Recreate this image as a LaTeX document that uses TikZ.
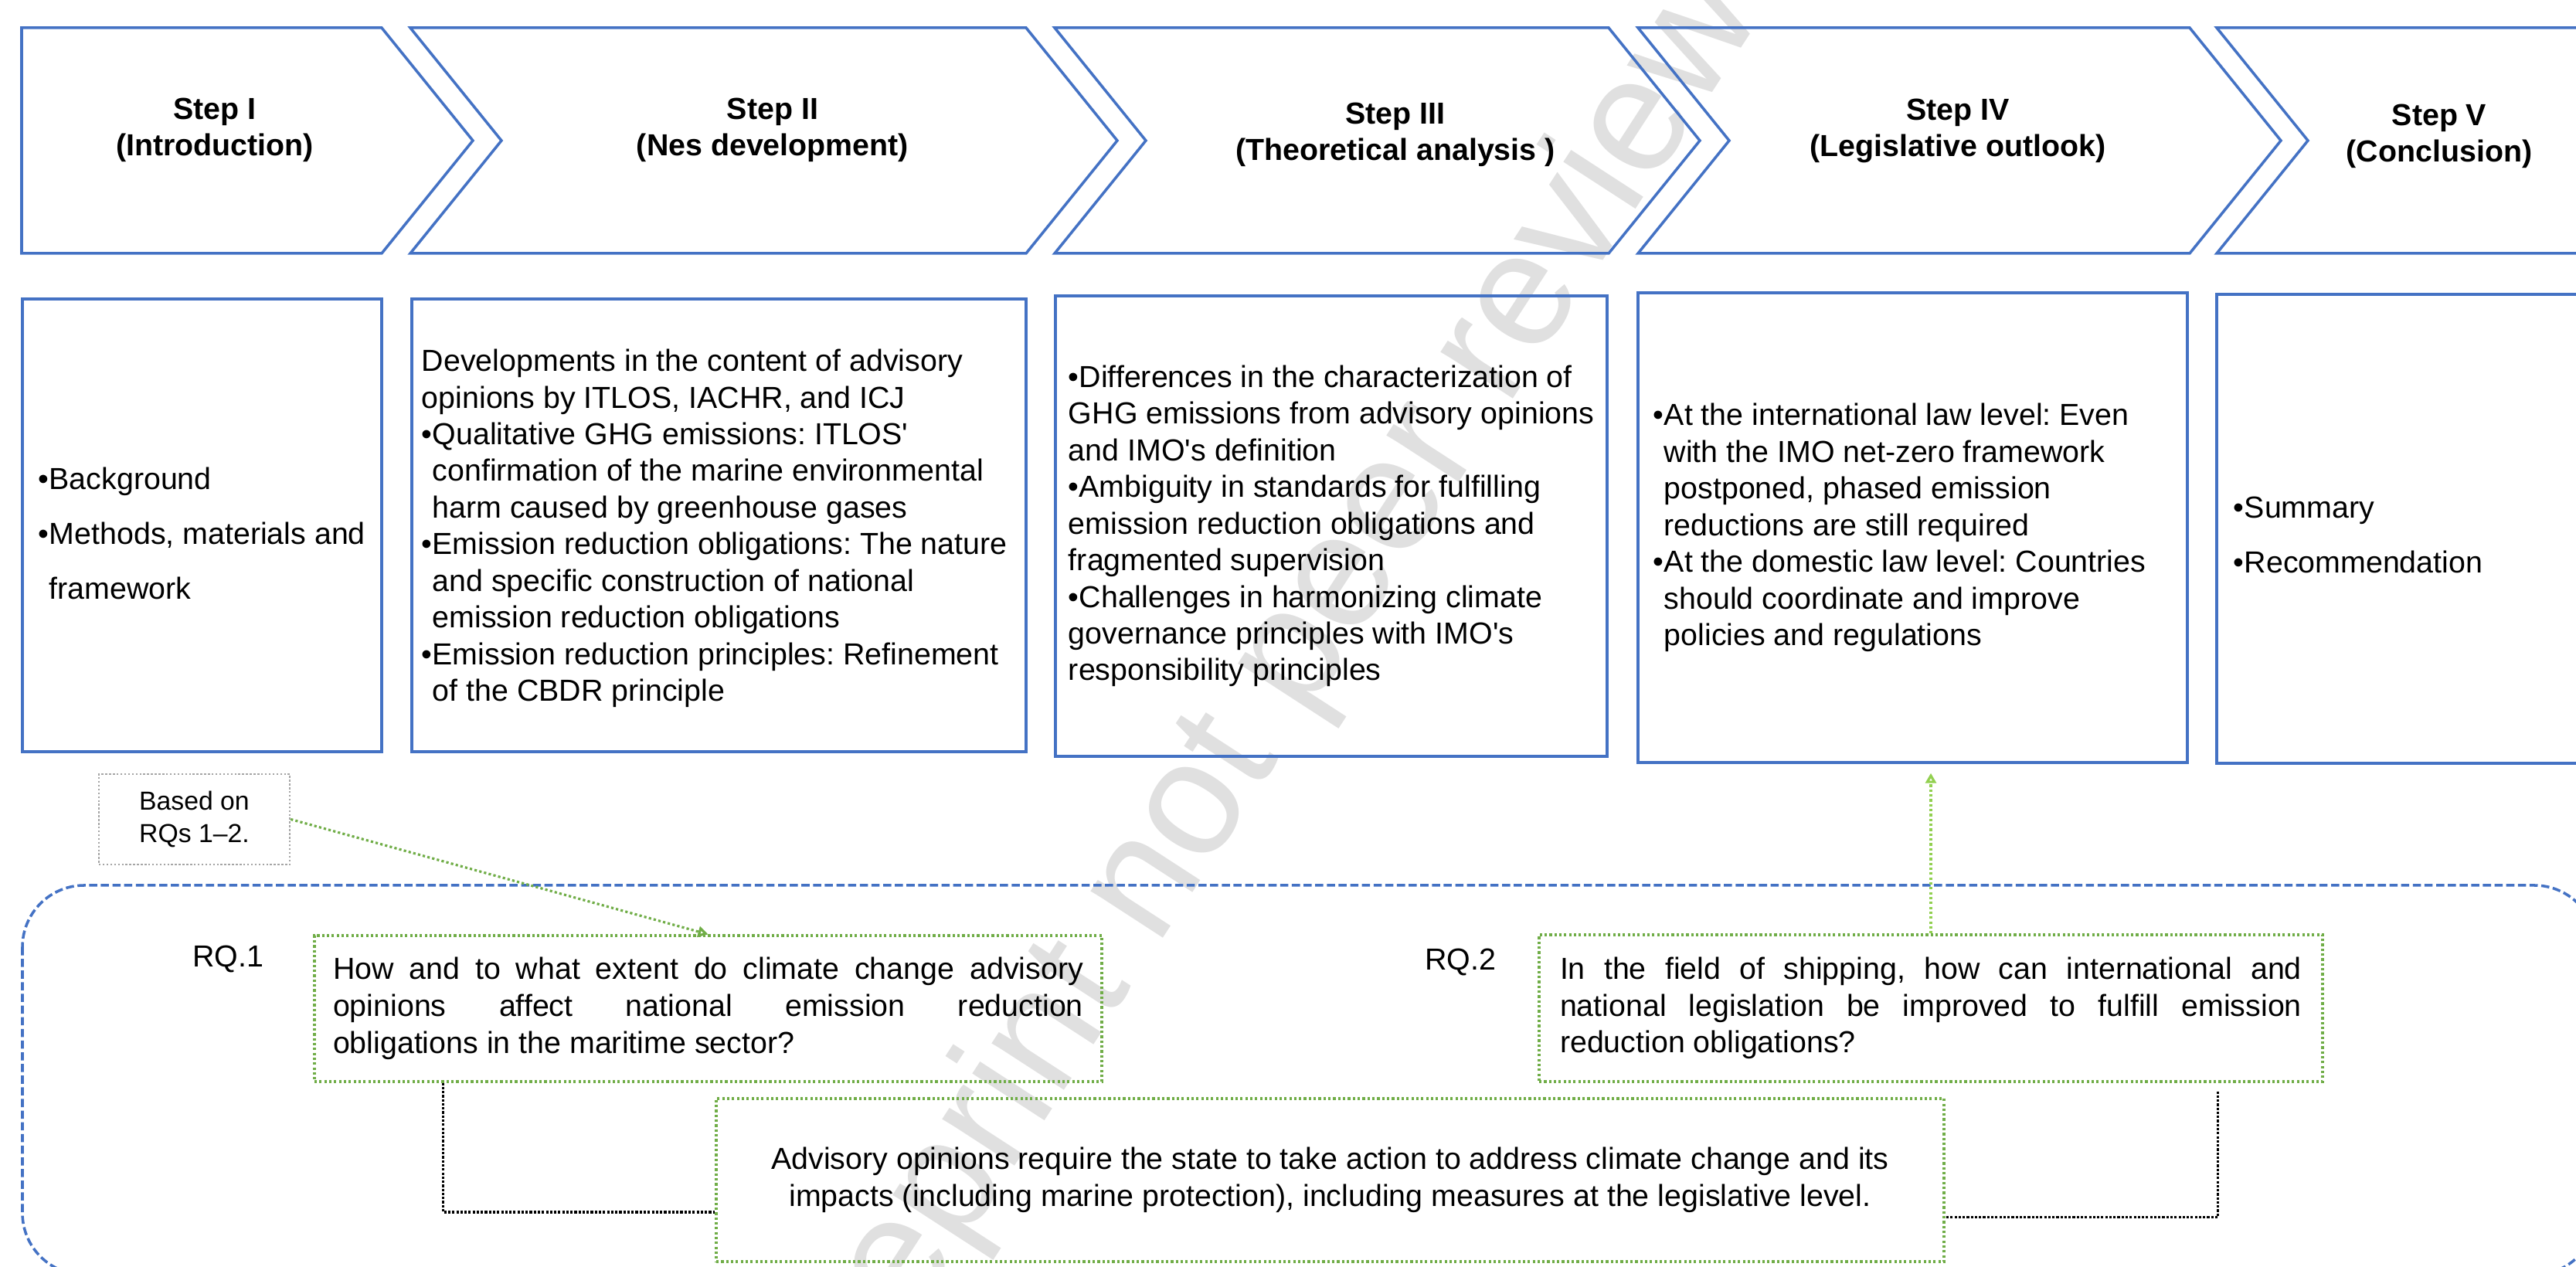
\documentclass[tikz,border=0pt]{standalone}
\usepackage{fontspec}
\setmainfont{Liberation Sans}
\definecolor{ppblue}{RGB}{68,114,196}
\definecolor{ppgreen}{RGB}{112,173,71}
\definecolor{pplime}{RGB}{146,208,80}
\definecolor{ppgray}{RGB}{165,165,165}
\usetikzlibrary{arrows.meta,positioning,calc}
\newcommand{\ind}{\hphantom{\textbullet}}
\newcommand{\apos}{\textquotesingle}

\begin{document}
\frenchspacing
\begin{tikzpicture}[
  chevron/.style={draw=ppblue, line width=1pt, line join=miter},
  steplabel/.style={font=\fontsize{11.2}{13.4}\selectfont\bfseries, align=center},
  stagebox/.style={draw=ppblue, line width=1pt, inner sep=0pt},
  stagetext/.style={font=\fontsize{11.2}{13.5}\selectfont, align=left, inner sep=0pt, anchor=west},
  widetext/.style={stagetext, font=\fontsize{11.2}{20.2}\selectfont},
  rqbox/.style={draw=ppgreen, line width=0.9pt, dash pattern=on 0.9pt off 0.9pt, font=\fontsize{11.2}{13.6}\selectfont, inner ysep=0pt},
  rqlabel/.style={font=\fontsize{11.2}{13.5}\selectfont},
  link/.style={draw=black, line width=0.9pt, dash pattern=on 0.9pt off 0.6pt},
  hint/.style={-{Triangle[open, length=1.3mm, width=1.4mm]}, line width=0.9pt, dash pattern=on 0.9pt off 0.9pt},
]
  \useasboundingbox (0,0) rectangle (33.34,16.40);

  % Watermark
  \node[rotate=57, text=black!12, font=\fontsize{60}{60}\selectfont] (stamp) at (16.91,8.12) {Preprint not peer reviewed};

  % Step I: Introduction
  \draw[chevron] (0.28,16.04) -- (4.94,16.04) -- (6.12,14.58) -- (4.94,13.12) -- (0.28,13.12) -- cycle;
  \node[steplabel] (s1) at (2.78,14.72) {Step I\\(Introduction)};

  % Step II: Nes development
  \draw[chevron] (5.31,16.04) -- (13.28,16.04) -- (14.46,14.58) -- (13.28,13.12) -- (5.31,13.12) -- (6.49,14.58) -- cycle;
  \node[steplabel] (s2) at (10.00,14.72) {Step II\\(Nes development)};

  % Step III: Theoretical analysis
  \draw[chevron] (13.65,16.04) -- (20.82,16.04) -- (22.00,14.58) -- (20.82,13.12) -- (13.65,13.12) -- (14.83,14.58) -- cycle;
  \node[steplabel] (s3) at (18.06,14.66) {Step III\\(Theoretical analysis )};

  % Step IV: Legislative outlook
  \draw[chevron] (21.20,16.04) -- (28.34,16.04) -- (29.52,14.58) -- (28.34,13.12) -- (21.20,13.12) -- (22.38,14.58) -- cycle;
  \node[steplabel] (s4) at (25.34,14.71) {Step IV\\(Legislative outlook)};

  % Step V: Conclusion (runs off the page)
  \draw[chevron] (34.50,16.04) -- (28.69,16.04) -- (29.87,14.58) -- (28.69,13.12) -- (34.50,13.12);
  \node[steplabel] (s5) at (31.57,14.64) {Step V\\(Conclusion)};

  % Content boxes
  \node[stagebox, minimum width=4.65cm, minimum height=5.86cm] (b1) at (2.615,9.60) {};
  \node[widetext] (t1) at ([xshift=2.2mm,yshift=-1mm]b1.west) {\textbullet Background\\\textbullet Methods, materials and\\\ind framework};

  \node[stagebox, minimum width=7.95cm, minimum height=5.86cm] (b2) at (9.305,9.60) {};
  \node[stagetext] (t2) at ([xshift=1.4mm,yshift=-0.4mm]b2.west) {Developments in the content of advisory\\opinions by ITLOS, IACHR, and ICJ\\\textbullet Qualitative GHG emissions: ITLOS\apos\\\ind confirmation of the marine environmental\\\ind harm caused by greenhouse gases\\\textbullet Emission reduction obligations: The nature\\\ind and specific construction of national\\\ind emission reduction obligations\\\textbullet Emission reduction principles: Refinement\\\ind of the CBDR principle};

  \node[stagebox, minimum width=7.14cm, minimum height=5.96cm] (b3) at (17.23,9.59) {};
  \node[stagetext] (t3) at ([xshift=1.8mm]b3.west) {\textbullet Differences in the characterization of\\GHG emissions from advisory opinions\\and IMO\apos s definition\\\textbullet Ambiguity in standards for fulfilling\\emission reduction obligations and\\fragmented supervision\\\textbullet Challenges in harmonizing climate\\governance principles with IMO\apos s\\responsibility principles};

  \node[stagebox, minimum width=7.11cm, minimum height=6.08cm] (b4) at (24.755,9.57) {};
  \node[stagetext] (t4) at ([xshift=2.1mm]b4.west) {\textbullet At the international law level: Even\\\ind with the IMO net-zero framework\\\ind postponed, phased emission\\\ind reductions are still required\\\textbullet At the domestic law level: Countries\\\ind should coordinate and improve\\\ind policies and regulations};

  \node[stagebox, minimum width=6cm, minimum height=6.07cm] (b5) at (31.69,9.555) {};
  \node[widetext] (t5) at ([xshift=2.3mm,yshift=-0.8mm]b5.west) {\textbullet Summary\\\textbullet Recommendation};

  % Research questions frame
  \draw[draw=ppblue, line width=1pt, dash pattern=on 3pt off 1.3pt, rounded corners=0.8cm] (0.29,4.94) rectangle (33.60,-0.10);

  \node[draw=ppgray, line width=0.7pt, dash pattern=on 0.7pt off 0.7pt, minimum width=2.47cm, minimum height=1.17cm, align=center, font=\fontsize{9.6}{12}\selectfont] (basis) at (2.515,5.795) {Based on\\RQs 1–2.};

  \node[rqlabel] (r1) at (2.95,3.99) {RQ.1};
  \node[rqbox, minimum width=10.19cm, minimum height=1.89cm, text width=9.71cm, align=justify] (q1) at (9.165,3.345) {How and to what extent do climate change advisory\linebreak opinions affect national emission reduction\linebreak obligations in the maritime sector?};

  \node[rqlabel] (r2) at (18.90,3.95) {RQ.2};
  \node[rqbox, minimum width=10.14cm, minimum height=1.90cm, text width=9.60cm, align=justify] (q2) at (24.99,3.35) {In the field of shipping, how can international and\linebreak national legislation be improved to fulfill emission\linebreak reduction obligations?};

  \node[rqbox, minimum width=15.89cm, minimum height=2.11cm, align=center] (aim) at (17.215,1.125) {Advisory opinions require the state to take action to address climate change and its\\impacts (including marine protection), including measures at the legislative level.};

  % Connectors
  \draw[hint, ppgreen] (basis.east) -- (q1.north);
  \draw[hint, pplime] (q2.north) -- ([yshift=-1.2mm]q2.north |- b4.south);
  \draw[link] ([xshift=1.68cm]q1.south west) |- ([yshift=-4.15mm]aim.west);
  \draw[link] ([xshift=-1.37cm,yshift=-1.1mm]q2.south east) |- ([yshift=-4.8mm]aim.east);
\end{tikzpicture}
\end{document}
